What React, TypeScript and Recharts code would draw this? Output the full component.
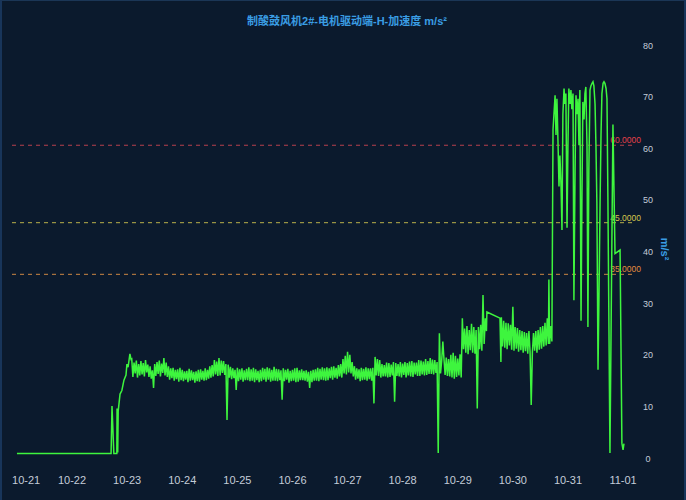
import React from 'react';
import { LineChart, Line, XAxis, YAxis, ReferenceLine } from 'recharts';

// ---- data (hours since 10-21 00:00, acceleration m/s²) ----
const dayLabels = ['10-21', '10-22', '10-23', '10-24', '10-25', '10-26', '10-27', '10-28', '10-29', '10-30', '10-31', '11-01'];
const dayTickHours = [4, 24, 48, 72, 96, 120, 144, 168, 192, 216, 240, 264];
const yTicks = [0, 10, 20, 30, 40, 50, 60, 70, 80];

const thresholdValues = [60, 45, 35];
const thresholdLabels = ['60.0000', '45.0000', '35.0000'];

const idleSegment: [number, number][] = [[0, 0.3], [41, 0.3]];
const startupSegment: [number, number][] = [
  [41.4, 9.5], [42.2, 0.3], [43.5, 0.3], [43.6, 9], [43.9, 0.5], [44.1, 8.5], [44.9, 11.8], [45.7, 12.5],
  [46.6, 14.5], [47.5, 15.5], [47.9, 17.6], [48.4, 17], [49.2, 19.6], [49.7, 18.5],
];
// half-hourly readings from h=50 to h=204.5
const steadyBandStart = 50;
const steadyBand = [
  18.6, 15.1, 17.9, 15.8, 18.3, 15.0, 17.6, 15.4, 18.2, 15.6,
  17.8, 15.2, 18.4, 16.0, 17.5, 15.1, 17.2, 14.8, 16.4, 13.0,
  17.6, 15.3, 18.0, 15.7, 18.3, 15.2, 17.7, 15.9, 18.8, 15.4,
  17.9, 15.1, 17.2, 14.6, 16.8, 14.9, 16.9, 14.4, 16.5, 14.7,
  16.6, 14.2, 16.9, 14.5, 16.5, 14.3, 16.2, 14.6, 16.3, 14.1,
  16.7, 14.4, 16.4, 14.5, 16.1, 14.0, 16.2, 14.3, 16.5, 14.2,
  16.6, 14.6, 16.3, 14.4, 16.8, 14.5, 16.5, 14.8, 17.2, 15.0,
  17.4, 15.2, 18.4, 15.6, 18.1, 15.3, 18.8, 15.4, 18.3, 15.9,
  18.2, 15.5, 17.6, 6.8, 17.5, 15.0, 17.1, 14.7, 16.8, 14.9,
  16.5, 12.6, 16.9, 14.3, 16.6, 14.6, 16.8, 14.2, 16.4, 14.5,
  16.7, 14.5, 17.0, 14.3, 16.6, 14.4, 16.9, 14.1, 16.6, 14.5,
  16.3, 14.1, 16.5, 14.3, 16.9, 14.6, 16.7, 14.2, 17.0, 14.6,
  16.8, 14.2, 16.5, 14.4, 17.1, 14.4, 16.7, 14.3, 16.6, 14.5,
  16.4, 10.7, 16.8, 14.3, 16.5, 14.6, 16.7, 14.0, 16.3, 14.3,
  16.5, 14.4, 16.8, 14.1, 16.9, 14.2, 16.4, 14.5, 16.6, 14.5,
  16.3, 14.4, 16.4, 14.2, 16.1, 13.0, 16.3, 14.1, 16.5, 14.4,
  16.6, 14.4, 16.9, 14.3, 16.7, 14.6, 17.0, 14.5, 16.8, 14.4,
  17.0, 14.5, 16.8, 14.9, 17.1, 14.6, 17.2, 15.0, 16.9, 14.8,
  17.4, 15.2, 17.6, 15.0, 18.6, 15.8, 19.2, 15.6, 20.0, 16.0,
  19.4, 15.8, 18.0, 15.2, 17.2, 14.6, 16.8, 14.8, 16.6, 14.3,
  16.9, 14.5, 16.7, 14.6, 17.0, 14.4, 16.8, 14.7, 16.8, 14.4,
  16.9, 10.0, 19.0, 15.4, 18.6, 15.3, 18.4, 15.0, 17.6, 15.2,
  17.4, 15.2, 17.9, 15.0, 17.8, 15.1, 17.5, 15.4, 18.0, 10.3,
  17.8, 15.3, 17.6, 15.2, 18.0, 15.0, 17.7, 15.5, 18.0, 15.0,
  17.8, 15.4, 18.1, 15.2, 18.2, 15.1, 17.9, 15.6, 17.9, 15.3,
  18.4, 15.3, 18.3, 15.6, 18.1, 15.4, 18.6, 15.5, 18.2, 15.7,
  18.8, 15.7, 18.5, 15.6, 18.4, 15.9, 18.0, 0.4, 23.6, 15.8,
  18.2, 22.0, 18.6, 15.5, 18.9, 15.3, 18.6, 15.2, 19.4, 15.0,
  19.8, 14.8, 19.2, 15.1, 18.7, 15.4, 19.5, 15.0, 26.5, 20.5,
  24.5, 19.8, 25.0, 19.5, 24.2, 20.3, 25.4, 19.8, 24.8, 19.6,
  24.2, 9.0, 24.8, 20.5, 25.2, 20.2, 31.0, 21.5, 26.5, 24.0,
];
const gapSegment: [number, number][] = [[204.7, 27.7], [210.4, 26.5], [210.8, 18]];
// half-hourly readings from h=211 to h=231.5
const lateBandStart = 211;
const lateBand = [
  26.7, 21.0, 26.0, 20.8, 25.6, 20.5, 25.5, 21.2, 25.2, 20.4,
  28.7, 20.2, 24.8, 20.6, 24.6, 20.0, 24.2, 20.3, 24.0, 19.8,
  23.8, 20.1, 23.6, 19.6, 24.0, 20.0, 9.7, 19.8, 23.6, 20.2,
  24.0, 19.8, 24.2, 20.4, 24.8, 20.6, 25.0, 21.0, 25.6, 21.2,
  26.5, 21.5,
];
const highVibration: [number, number][] = [
  [231.7, 34], [232, 21.5], [232.6, 25], [233, 22], [233.5, 63], [234.4, 69.7], [234.8, 62], [235.2, 69], [235.7, 60],
  [236.1, 52], [236.5, 58], [237, 52], [237.4, 43.6], [237.8, 66], [238.3, 71], [238.7, 68], [239.1, 70],
  [239.6, 44], [240, 60], [240.4, 71], [240.9, 68], [241.3, 70.7], [241.7, 67], [242.2, 70], [242.6, 30],
  [243.1, 55], [243.5, 69.7], [243.9, 66], [244.4, 69], [244.8, 60], [245.2, 70.7], [245.7, 26], [246.1, 50],
  [246.5, 68.4], [247, 65], [247.4, 70], [247.8, 71.3], [248.3, 60], [248.7, 24.8], [249.1, 55], [249.6, 70.7],
  [250, 71.5], [250.5, 72], [250.9, 72.3], [251.3, 71.5], [251.8, 68], [252.2, 60], [252.6, 49], [253.1, 16.5],
  [253.5, 30], [254, 49], [254.4, 62], [254.8, 70], [255.3, 72], [255.7, 72.3], [256.1, 72], [256.6, 71],
  [257, 69], [257.4, 50], [258.3, 0.4], [259.6, 64], [260.5, 39], [262.7, 39.7], [263.5, 2.3], [264, 1], [264.4, 2.2],
];

const points: [number, number][] = [
  ...idleSegment,
  ...startupSegment,
  ...steadyBand.map((v, i) => [steadyBandStart + i * 0.5, v] as [number, number]),
  ...gapSegment,
  ...lateBand.map((v, i) => [lateBandStart + i * 0.5, v] as [number, number]),
  ...highVibration,
];
const chartData = points.map(([h, v]) => ({ h, v }));

// ---- styles ----
const BG = '#0b1a2d';
const LABEL = '#c3ccd8';
const BLUE = '#3a9de4';
const refStyles = [
  { line: '#b8404e', text: '#e3404a' },
  { line: '#b9b04a', text: '#d4c64c' },
  { line: '#cc8744', text: '#e28a3e' },
];
const FONT = 'Arial, "Liberation Sans", "Noto Sans CJK SC", sans-serif';

const XTick = (props: any) => {
  const { x, payload } = props;
  const i = dayTickHours.indexOf(payload.value);
  return (
    <text x={x} y={484} textAnchor="middle" fill={LABEL} fontSize={11} fontFamily={FONT}>
      {dayLabels[i]}
    </text>
  );
};

const YTick = (props: any) => {
  const { y, payload } = props;
  return (
    <text x={648} y={y + 6.5} textAnchor="middle" fill={LABEL} fontSize={9} fontFamily={FONT}>
      {payload.value}
    </text>
  );
};

const YLabel = () => (
  <text
    x={665}
    y={249}
    transform="rotate(90, 665, 249)"
    textAnchor="middle"
    dominantBaseline="central"
    fill={BLUE}
    fontSize={11}
    fontWeight="bold"
    fontFamily={FONT}
  >
    m/s²
  </text>
);

const makeRefLabel = (text: string, color: string) => (p: any) => {
  const vb = p.viewBox;
  return (
    <text x={vb.x + vb.width + 9} y={vb.y - 2} textAnchor="end" fill={color} fontSize={8.5} fontFamily={FONT}>
      {text}
    </text>
  );
};

export default function App() {
  return (
    <div
      style={{
        position: 'absolute',
        left: 0,
        top: 0,
        width: 686,
        height: 500,
        background: BG,
        boxSizing: 'border-box',
        borderLeft: '2px solid #18355a',
        borderRight: '2px solid #18355a',
        borderTop: '1px solid #1b3656',
        overflow: 'hidden',
      }}
    >
      <div
        style={{
          position: 'absolute',
          left: 0,
          top: 10,
          width: 686,
          textAlign: 'center',
          boxSizing: 'border-box',
        }}
      >
        <span style={{ color: BLUE, fontSize: 11, fontWeight: 'bold', fontFamily: FONT, marginLeft: 4 }}>
          制酸鼓风机2#-电机驱动端-H-加速度 m/s²
        </span>
      </div>
      <div style={{ position: 'absolute', left: -2, top: -1 }}>
        <LineChart
          width={686}
          height={500}
          data={chartData}
          margin={{ top: 42, right: 14, bottom: 15, left: 8 }}
        >
          <XAxis
            dataKey="h"
            type="number"
            domain={[-3.9, 267.9]}
            ticks={dayTickHours}
            tick={<XTick />}
            axisLine={false}
            tickLine={false}
            height={30}
            allowDataOverflow
          />
          <YAxis
            orientation="right"
            type="number"
            domain={[0, 80]}
            ticks={yTicks}
            tick={<YTick />}
            axisLine={false}
            tickLine={false}
            width={40}
            label={<YLabel />}
          />
          {thresholdValues.map((v, i) => (
            <ReferenceLine
              key={v}
              y={v}
              stroke={refStyles[i].line}
              strokeDasharray="4 4"
              strokeWidth={1}
              label={makeRefLabel(thresholdLabels[i], refStyles[i].text)}
            />
          ))}
          <Line
            type="linear"
            dataKey="v"
            stroke="#3ef53e"
            strokeWidth={1.5}
            dot={false}
            isAnimationActive={false}
          />
        </LineChart>
      </div>
    </div>
  );
}
